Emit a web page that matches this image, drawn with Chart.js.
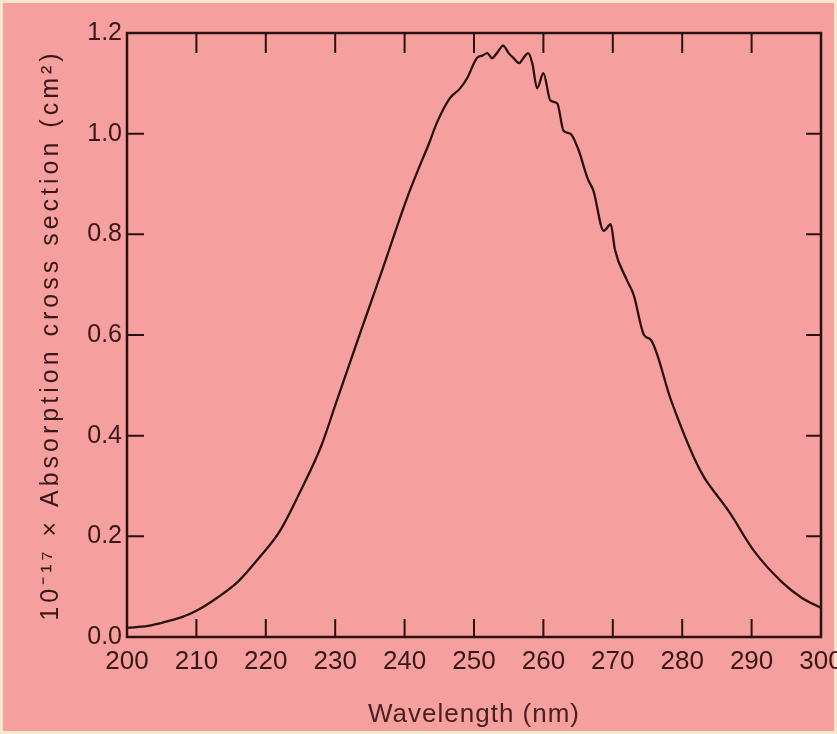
<!DOCTYPE html>
<html><head><meta charset="utf-8">
<script src="https://cdn.jsdelivr.net/npm/chart.js@4.4.1/dist/chart.umd.min.js"></script>
<style>
html,body{margin:0;padding:0;background:#f7e7cf;overflow:hidden}
#wrap{position:absolute;left:0;top:0;width:837px;height:734px}
</style></head><body>
<div id="wrap"><canvas id="c" width="837" height="734"></canvas></div>
<script>
// Wavelength (nm)
const wavelengths = [200,203,206,208,210,213,216,219,222,225,228,230,233.5,236.8,240.3,242,243.5,244.6,246.5,248,249,250.4,251.2,251.9,252.6,253.3,254.2,255,255.7,256.5,257.1,257.8,258.4,259.1,260,261,262,262.9,263.9,265,266.4,267.2,268.7,269.7,270.3,272,273,274.5,275.5,278.4,281.7,283.2,284,286.7,290.4,294.3,297.2,300];
// 10^-17 x absorption cross section (cm^2)
const crossSection = [0.018,0.022,0.032,0.040,0.052,0.078,0.11,0.157,0.21,0.29,0.38,0.46,0.60,0.73,0.87,0.93,0.98,1.02,1.07,1.09,1.11,1.15,1.155,1.16,1.15,1.16,1.175,1.16,1.15,1.14,1.15,1.16,1.14,1.09,1.12,1.066,1.06,1.006,1.0,0.97,0.91,0.887,0.807,0.82,0.77,0.71,0.68,0.60,0.59,0.47,0.356,0.316,0.30,0.25,0.17,0.11,0.078,0.058];
const xTickValues = [200,210,220,230,240,250,260,270,280,290,300];
const yTickValues = [0.0,0.2,0.4,0.6,0.8,1.0,1.2];
const xTitle = 'Wavelength (nm)';
const yTitle = '10\u207B\u00B9\u2077 \u00D7 Absorption cross section (cm\u00B2)';

const INK = '#2b1010';
const PINK = '#f5a09f';
const CREAM = '#f7e7cf';
const FONT = "'Liberation Sans', Arial, sans-serif";

function spacedTitle(spacing) {
  return s => {
    if (s._spacedTitle) return;
    const orig = s.drawTitle.bind(s);
    s.drawTitle = function (area) {
      const ctx = this.ctx;
      const prev = ctx.letterSpacing;
      ctx.letterSpacing = spacing;
      orig(area);
      ctx.letterSpacing = prev || '0px';
    };
    s._spacedTitle = true;
  };
}

const framePlugin = {
  id: 'frame',
  beforeDraw(chart) {
    const ctx = chart.ctx, w = chart.width, h = chart.height;
    ctx.save();
    ctx.fillStyle = CREAM; ctx.fillRect(0, 0, w, h);
    ctx.fillStyle = PINK; ctx.fillRect(3, 3, w - 6, h - 6);
    ctx.restore();
  },
  afterDraw(chart) {
    const ctx = chart.ctx, a = chart.chartArea, xs = chart.scales.x, ys = chart.scales.y;
    ctx.save();
    ctx.strokeStyle = INK;
    ctx.lineWidth = 2.5;
    ctx.strokeRect(a.left, a.top, a.right - a.left, a.bottom - a.top);
    ctx.lineWidth = 2;
    ctx.beginPath();
    xs.ticks.forEach(t => {
      if (t.value <= xs.min || t.value >= xs.max) return;
      const px = xs.getPixelForValue(t.value);
      ctx.moveTo(px, a.bottom); ctx.lineTo(px, a.bottom - 18);
      ctx.moveTo(px, a.top); ctx.lineTo(px, a.top + 20);
    });
    ys.ticks.forEach(t => {
      if (t.value <= ys.min + 1e-9 || t.value >= ys.max - 1e-9) return;
      const py = ys.getPixelForValue(t.value);
      ctx.moveTo(a.left, py); ctx.lineTo(a.left + 17, py);
      ctx.moveTo(a.right, py); ctx.lineTo(a.right - 15, py);
    });
    ctx.stroke();
    ctx.restore();
  }
};

new Chart(document.getElementById('c'), {
  type: 'line',
  data: {
    datasets: [{
      data: wavelengths.map((w, i) => ({x: w, y: crossSection[i]})),
      borderColor: INK,
      borderWidth: 2.3,
      pointRadius: 0,
      fill: false,
      cubicInterpolationMode: 'monotone'
    }]
  },
  options: {
    responsive: false,
    devicePixelRatio: 1,
    animation: false,
    layout: {padding: {left: 0, top: 33, right: 16, bottom: 0}},
    plugins: {legend: {display: false}, tooltip: {enabled: false}},
    scales: {
      x: {
        type: 'linear', min: 200, max: 300,
        afterBuildTicks: s => { s.ticks = xTickValues.map(v => ({value: v})); },
        afterFit: s => { s.height = 97; s.paddingLeft = 0; s.paddingRight = 0; },
        afterUpdate: spacedTitle('1px'),
        grid: {display: false, drawTicks: false},
        border: {display: false},
        ticks: {color: '#3a1616', font: {family: FONT, size: 26}, padding: 9, maxRotation: 0, autoSkip: false,
                callback: v => String(v)},
        title: {display: true, text: xTitle, color: '#4a2020', font: {family: FONT, size: 26},
                padding: {top: 0, bottom: 4}}
      },
      y: {
        type: 'linear', min: 0, max: 1.2,
        afterBuildTicks: s => { s.ticks = yTickValues.map(v => ({value: v})); },
        afterFit: s => { s.width = 127; s.paddingTop = 0; s.paddingBottom = 0; },
        afterUpdate: spacedTitle('4px'),
        grid: {display: false, drawTicks: false},
        border: {display: false},
        ticks: {color: '#3a1616', font: {family: FONT, size: 25}, padding: 5,
                callback: v => Number(v).toFixed(1)},
        title: {display: true, text: yTitle, color: '#3a1616', font: {family: FONT, size: 25},
                padding: {top: 36, bottom: 0}}
      }
    }
  },
  plugins: [framePlugin]
});
</script>
</body></html>
